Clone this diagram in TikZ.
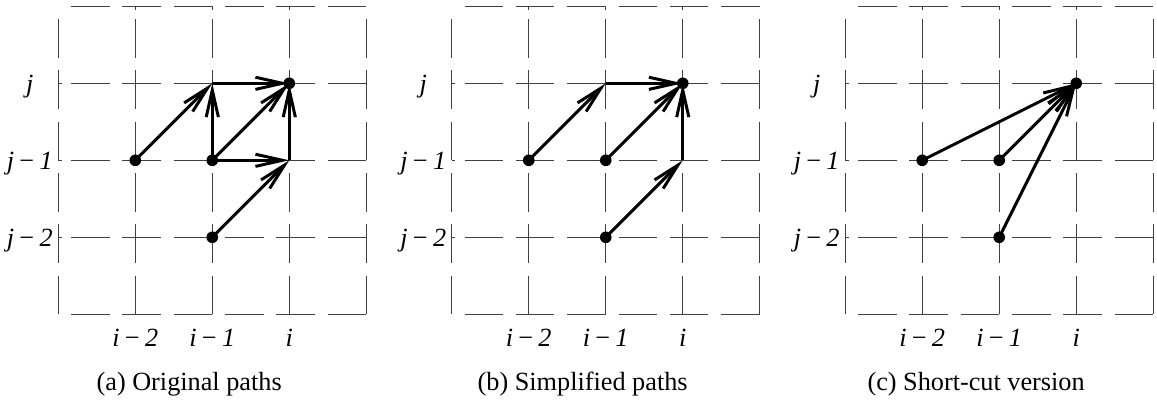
\documentclass[tikz,border=0pt]{standalone}
\usepackage{fontspec}
\setmainfont{Liberation Serif}
\usepackage{tikz}
\usetikzlibrary{arrows.meta}
\tikzset{
  gridline/.style={black!75, line width=0.9pt, dash pattern=on 1cm off 0.3333cm, dash phase=1cm},
  tickline/.style={black!75, line width=0.9pt},
  pathline/.style={line width=2.2pt, ->},
  dot/.style={circle, fill, inner sep=0pt, minimum size=8.6pt},
  lbl/.style={font=\fontsize{19.4}{23}\selectfont, anchor=base},
}
\newcommand{\mlab}[2]{\textit{#1}\hspace{0.2em}−\hspace{0.2em}\textit{#2}}

\begin{document}
\begin{tikzpicture}[x=2cm, y=2cm, >={Straight Barb[length=20pt,width=9pt]}]
    \useasboundingbox (-0.757,-1.178) rectangle (14.269,4.082);
    \foreach \p/\dx/\capt in {a/0/{(a) Original paths}, b/5.11/{(b) Simplified paths}, c/10.22/{(c) Short-cut version}} {
        \begin{scope}[shift={(\dx,0)}]
            % Gitter
            \foreach \k in {0,...,4} {
                \draw[gridline] (\k,4) -- (\k,0);
                \draw[gridline] (0,\k) -- (4,\k);
                \foreach \r in {0,...,4}
                    \coordinate (\p-\k-\r) at (\k,\r);
            }
            \foreach \k in {1,2,3} {
                \draw[tickline] (0,\k) -- ++(0.045,0);
                \draw[tickline] (4,\k) -- ++(-0.045,0);
                \draw[tickline] (\k,0) -- ++(0,0.045);
                \draw[tickline] (\k,4) -- ++(0,-0.045);
            }
            % Achsenbeschriftung
            \node[lbl] (\p-y3) at (-0.37,2.88) {\textit{j}};
            \node[lbl] (\p-y2) at (-0.37,1.88) {\mlab{j}{1}};
            \node[lbl] (\p-y1) at (-0.37,0.88) {\mlab{j}{2}};
            \node[lbl] (\p-x1) at (1,-0.421) {\mlab{i}{2}};
            \node[lbl] (\p-x2) at (2,-0.421) {\mlab{i}{1}};
            \node[lbl] (\p-x3) at (3,-0.421) {\textit{i}};
            \node[lbl] (\p-cap) at (1.70,-0.992) {\capt};
            % Punkte
            \node[dot] (\p-d12) at (1,2) {};
            \node[dot] (\p-d22) at (2,2) {};
            \node[dot] (\p-d21) at (2,1) {};
            \node[dot] (\p-d33) at (3,3) {};
        \end{scope}
    }
    % Originale Pfade
    \draw[pathline] (a-1-2) -- (a-2-3);
    \draw[pathline] (a-2-2) -- (a-2-3);
    \draw[pathline] (a-2-3) -- (a-3-3);
    \draw[pathline] (a-2-2) -- (a-3-3);
    \draw[pathline] (a-2-2) -- (a-3-2);
    \draw[pathline] (a-3-2) -- (a-3-3);
    \draw[pathline] (a-2-1) -- (a-3-2);
    % Vereinfachte Pfade
    \draw[pathline] (b-1-2) -- (b-2-3);
    \draw[pathline] (b-2-3) -- (b-3-3);
    \draw[pathline] (b-2-2) -- (b-3-3);
    \draw[pathline] (b-3-2) -- (b-3-3);
    \draw[pathline] (b-2-1) -- (b-3-2);
    % Abkuerzung
    \draw[pathline] (c-1-2) -- (c-3-3);
    \draw[pathline] (c-2-2) -- (c-3-3);
    \draw[pathline] (c-2-1) -- (c-3-3);
\end{tikzpicture}
\end{document}
